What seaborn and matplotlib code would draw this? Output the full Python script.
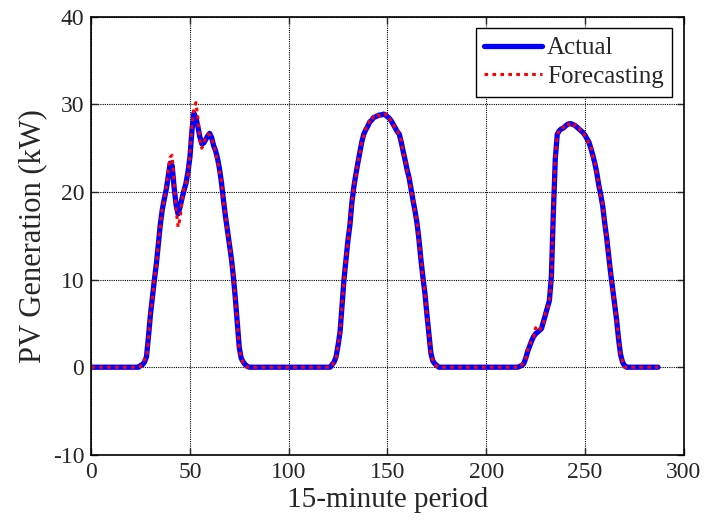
import matplotlib
matplotlib.use("Agg")
import matplotlib.pyplot as plt
import numpy as np
import pandas as pd
import seaborn as sns

# values, one per 15-minute period (0..287)
night1 = [0.0] * 24
day1_actual = [0.0, 0.2, 0.3, 0.6, 1.2, 3.5, 6.0, 8.0, 10.0, 11.8, 14.0, 16.3, 18.0, 19.2, 20.3,
               21.8, 23.3, 23.0, 20.5, 18.5, 17.5, 18.3, 19.3, 20.2, 21.0, 22.3, 24.0, 27.0, 29.0,
               28.5, 27.5, 26.3, 25.5, 25.6, 26.0, 26.4, 26.7, 26.2, 25.3, 24.7, 23.8, 22.6, 21.0,
               19.0, 17.2, 15.6, 14.0, 12.4, 10.3, 7.8, 5.0, 2.2, 1.0, 0.6, 0.3, 0.1, 0.0]
day1_fcst = [0.0, 0.1, 0.5, 0.9, 1.0, 3.2, 6.3, 7.8, 10.2, 11.5, 14.3, 16.0, 18.3, 19.0, 20.6,
             22.4, 24.0, 24.2, 21.0, 18.0, 16.0, 17.0, 19.0, 20.5, 21.0, 22.0, 24.3, 27.5, 29.6,
             30.2, 28.5, 26.0, 25.0, 25.5, 26.3, 26.6, 26.5, 26.0, 25.5, 24.5, 23.5, 22.3, 21.2,
             18.8, 17.4, 15.3, 14.2, 12.2, 10.5, 7.5, 5.2, 2.0, 1.2, 0.4, 0.2, 0.0, 0.0]
night2 = [0.0] * 40
day2_actual = [0.0, 0.3, 0.6, 1.2, 2.5, 4.0, 7.0, 10.0, 12.2, 14.5, 16.2, 18.8, 20.6, 22.0,
               23.3, 24.5, 25.7, 26.6, 27.1, 27.5, 28.0, 28.2, 28.5, 28.6, 28.7, 28.8, 28.8, 28.9,
               28.8, 28.6, 28.4, 28.1, 27.7, 27.3, 26.9, 26.6, 25.7, 24.6, 23.6, 22.5, 21.6, 20.3,
               19.0, 17.8, 16.4, 14.5, 12.2, 10.2, 8.4, 6.0, 3.8, 1.6, 0.7, 0.4, 0.2, 0.0]
day2_fcst = [0.0, 0.2, 0.7, 1.0, 2.7, 3.8, 7.2, 9.8, 12.4, 14.3, 16.5, 18.6, 20.8, 21.8,
             23.5, 24.3, 25.9, 26.4, 27.3, 27.4, 28.2, 28.1, 28.6, 28.5, 28.8, 28.7, 28.9, 28.8,
             28.9, 28.5, 28.5, 27.9, 27.8, 27.1, 27.0, 26.4, 25.9, 24.4, 23.8, 22.3, 21.8, 20.1,
             19.2, 17.6, 16.6, 14.3, 12.4, 10.0, 8.6, 5.8, 4.0, 1.4, 0.8, 0.3, 0.1, 0.0]
night3 = [0.0] * 39
day3_actual = [0.0, 0.1, 0.2, 0.4, 1.0, 1.8, 2.4, 3.0, 3.5, 3.8, 4.0, 4.2, 4.4, 5.2, 6.0,
               6.8, 7.6, 10.3, 17.5, 23.8, 26.6, 27.0, 27.2, 27.3, 27.5, 27.7, 27.8, 27.8, 27.7,
               27.6, 27.4, 27.2, 27.0, 26.8, 26.5, 26.1, 25.7, 25.0, 24.2, 23.3, 22.2, 20.8, 19.7,
               18.4, 16.5, 14.8, 12.8, 10.8, 9.0, 7.2, 5.5, 3.3, 1.5, 0.6, 0.2, 0.0]
day3_fcst = [0.0, 0.0, 0.3, 0.5, 0.9, 2.0, 2.3, 3.2, 3.4, 4.5, 4.1, 4.3, 4.6, 5.0, 6.2,
             6.6, 7.8, 10.0, 17.8, 24.2, 26.4, 27.1, 27.1, 27.4, 27.4, 27.8, 27.7, 27.9, 27.6,
             27.7, 27.3, 27.3, 26.9, 26.9, 26.4, 26.2, 25.5, 25.2, 24.0, 23.5, 22.0, 21.0, 19.5,
             18.6, 16.3, 15.0, 12.6, 11.0, 8.8, 7.4, 5.3, 3.5, 1.3, 0.7, 0.0, 0.0]
night4 = [0.0] * 16

actual = night1 + day1_actual + night2 + day2_actual + night3 + day3_actual + night4
forecast = night1 + day1_fcst + night2 + day2_fcst + night3 + day3_fcst + night4
period = np.arange(len(actual))

df = pd.DataFrame({"period": period, "Actual": actual, "Forecasting": forecast})

sns.set_style("ticks")
plt.rcParams["font.family"] = ["Liberation Serif", "DejaVu Serif"]
plt.rcParams["axes.unicode_minus"] = False

fig = plt.figure(figsize=(7.07, 5.27), dpi=100)
ax = fig.add_axes([0.129, 0.137, 0.838, 0.831])

sns.lineplot(data=df, x="period", y="Actual", ax=ax, color="#0000ff", linewidth=3.8,
             label="Actual")
sns.lineplot(data=df, x="period", y="Forecasting", ax=ax, color="#ff0000", linewidth=2.2,
             linestyle=(0, (1.2, 1.4)), label="Forecasting")

ax.set_xlim(0, 300)
ax.set_ylim(-10, 40)
ax.set_xticks(range(0, 301, 50))
ax.set_yticks(range(-10, 41, 10))
ax.grid(True, color="black", linestyle=(0, (1, 1)), linewidth=0.8)
ax.tick_params(direction="in", top=True, right=True, labelsize=17, length=5, width=1, pad=5)
for s in ax.spines.values():
    s.set_linewidth(1.2)
    s.set_color("black")

ax.set_xlabel("15-minute period", fontsize=21, labelpad=3)
ax.set_ylabel("PV Generation (kW)", fontsize=22, labelpad=4)

leg = ax.legend(loc="upper right", fontsize=18, frameon=True, fancybox=False, framealpha=1,
                edgecolor="black", handlelength=2.3, handletextpad=0.2, borderaxespad=0.45,
                borderpad=0.35, labelspacing=0.25)
leg.get_frame().set_linewidth(1.0)

fig.savefig("out.png", dpi=100)
